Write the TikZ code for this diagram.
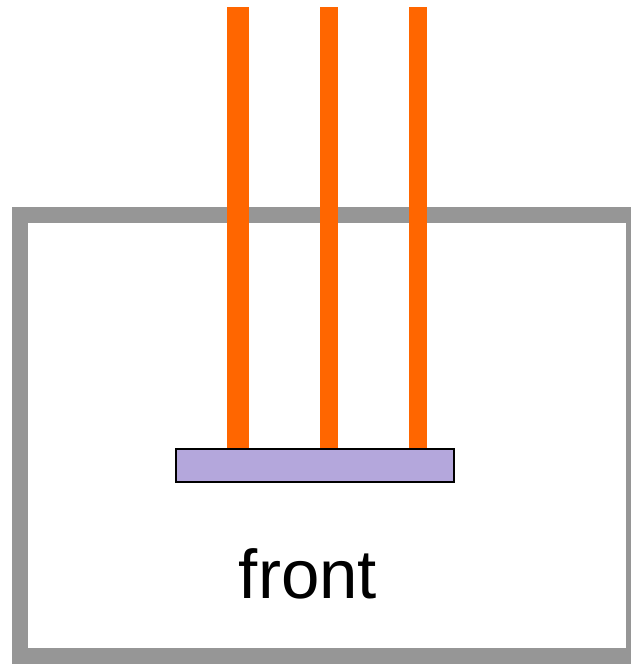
\documentclass[tikz,border=0pt]{standalone}
\usepackage{fontspec}
\setmainfont{Liberation Sans}
\definecolor{framegray}{RGB}{150,150,150}
\definecolor{barorange}{RGB}{255,102,0}
\definecolor{platelav}{RGB}{180,167,220}
\tikzset{
  framebox/.style={draw=framegray, line width=16pt, fill=white, minimum width=614pt, minimum height=441pt, inner sep=0pt, outer sep=0pt},
  platebox/.style={draw=black, line width=2pt, fill=platelav, minimum width=278pt, minimum height=33pt, inner sep=0pt, outer sep=0pt},
  barline/.style={draw=barorange, line width=#1},
}
\begin{document}
\begin{tikzpicture}[x=1pt,y=-1pt]
\useasboundingbox (0,0) rectangle (630,664);
\fill[white] (0,0) rectangle (630,664);
\node[framebox] (frame) at (327,435.5) {};
\coordinate (t1) at (238,7);
\coordinate (t2) at (329,7);
\coordinate (t3) at (417.5,7);
\node[platebox] (plate) at (315,465.5) {};
\draw[barline=22.5pt] (t1) -- (t1 |- plate.north);
\draw[barline=18pt] (t2) -- (t2 |- plate.north);
\draw[barline=18pt] (t3) -- (t3 |- plate.north);
\node[platebox] at (plate) {};
\node[anchor=base, font=\fontsize{69}{80}\selectfont, inner sep=0pt] (label) at (308,598) {front};
\end{tikzpicture}
\end{document}
